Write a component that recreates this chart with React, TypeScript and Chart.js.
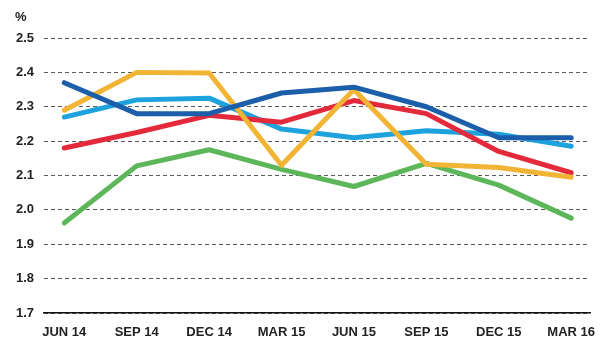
import React, { useEffect, useRef } from "react";
import { Chart, registerables } from "chart.js";

Chart.register(...registerables);

const categories = ["JUN 14", "SEP 14", "DEC 14", "MAR 15", "JUN 15", "SEP 15", "DEC 15", "MAR 16"];
const darkBlue = [2.37, 2.28, 2.28, 2.34, 2.357, 2.30, 2.21, 2.21];
const yellow = [2.29, 2.40, 2.398, 2.13, 2.35, 2.133, 2.123, 2.095];
const red = [2.18, 2.225, 2.275, 2.255, 2.318, 2.28, 2.17, 2.108];
const lightBlue = [2.27, 2.32, 2.325, 2.235, 2.21, 2.23, 2.22, 2.185];
const green = [1.962, 2.128, 2.175, 2.118, 2.068, 2.135, 2.072, 1.976];
const yTicks = [1.7, 1.8, 1.9, 2.0, 2.1, 2.2, 2.3, 2.4, 2.5];

const series = [
  { name: "Dark blue", values: darkBlue, color: "#1b5ea9" },
  { name: "Yellow", values: yellow, color: "#f1b434" },
  { name: "Red", values: red, color: "#e4293b" },
  { name: "Light blue", values: lightBlue, color: "#1ea2de" },
  { name: "Green", values: green, color: "#5db75a" },
];

const percentPlugin = {
  id: "percentLabel",
  afterDraw(chart: any) {
    const ctx = chart.ctx;
    ctx.save();
    ctx.font = "bold 13px 'Liberation Sans', Arial, sans-serif";
    ctx.fillStyle = "#222";
    ctx.textAlign = "left";
    ctx.textBaseline = "middle";
    ctx.fillText("%", 15, 17);
    ctx.restore();
  },
};

export default function App() {
  const ref = useRef<HTMLCanvasElement | null>(null);
  useEffect(() => {
    if (!ref.current) return;
    const font = { family: "'Liberation Sans', Arial, sans-serif", size: 13, weight: "bold" as const };
    const chart = new Chart(ref.current, {
      type: "line",
      data: {
        datasets: series.map((s) => ({
          label: s.name,
          data: s.values.map((v, i) => ({ x: i, y: v })),
          borderColor: s.color,
          backgroundColor: s.color,
          borderWidth: 5,
          pointRadius: 0,
          tension: 0,
          borderCapStyle: "round" as const,
          borderJoinStyle: "round" as const,
          fill: false,
        })),
      },
      options: {
        animation: false,
        responsive: false,
        layout: { padding: { top: 38, right: 10, left: 0, bottom: 0 } },
        plugins: { legend: { display: false }, tooltip: { enabled: false } },
        scales: {
          x: {
            type: "linear",
            min: -0.28,
            max: 7.26,
            grid: { display: false, drawTicks: false },
            border: { display: true, color: "#111", width: 1.5 },
            ticks: {
              stepSize: 1,
              includeBounds: false,
              autoSkip: false,
              maxRotation: 0,
              padding: 12,
              color: "#222",
              font,
              callback: (v: any) => (Number.isInteger(v) ? categories[v] ?? "" : ""),
            },
            afterFit: (scale: any) => {
              scale.height = 32;
              scale.paddingRight = 0;
            },
          },
          y: {
            min: 1.7,
            max: 2.5,
            afterBuildTicks: (scale: any) => {
              scale.ticks = yTicks.map((v) => ({ value: v }));
            },
            grid: { color: "#5a5a5a", lineWidth: 1, drawTicks: false },
            border: { display: false, dash: [4, 3] },
            ticks: {
              padding: 10,
              color: "#222",
              font,
              callback: (v: any) => Number(v).toFixed(1),
            },
            afterFit: (scale: any) => {
              scale.width = 44;
            },
          },
        },
      },
      plugins: [percentPlugin],
    });
    return () => chart.destroy();
  }, []);
  return (
    <div style={{ position: "fixed", left: 0, top: 0, width: 600, height: 345, background: "#fff" }}>
      <canvas ref={ref} width={600} height={345} />
    </div>
  );
}
